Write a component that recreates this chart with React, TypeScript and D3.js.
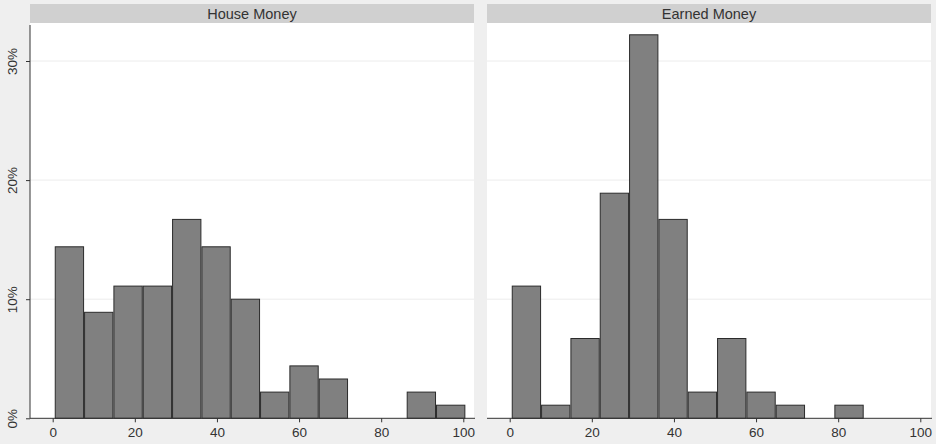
import React, { useEffect, useRef } from "react";
import * as d3 from "d3";

// bin layout (14 bins of equal width, Stata-style)
const binStart = 0.5;
const binWidth = 100 / 14;

const panels = ["House Money", "Earned Money"];
// percent of observations per bin
const houseMoney = [14.4, 8.9, 11.1, 11.1, 16.7, 14.4, 10.0, 2.2, 4.4, 3.3, 0, 0, 2.2, 1.1];
const earnedMoney = [11.1, 1.1, 6.7, 18.9, 32.2, 16.7, 2.2, 6.7, 2.2, 1.1, 0, 1.1, 0, 0];
const xTicks = [0, 20, 40, 60, 80, 100];
const yTicks = [0, 10, 20, 30];

const W = 936;
const H = 444;

function App() {
  const svgRef: any = useRef(null);

  useEffect(() => {
    draw();
  }, []);

  const draw = () => {
    const svg = d3.select(svgRef.current);
    svg.selectAll("*").remove();

    svg.append("rect").attr("width", W).attr("height", H).attr("fill", "#efefef");

    const font = "Arial, 'Liberation Sans', sans-serif";
    const panelW = 444;
    const panelLefts = [30, 487];
    const top = 23;

    const y = d3.scaleLinear().domain([0, 30]).range([418.3, 61]);

    const series = [houseMoney, earnedMoney];

    panelLefts.forEach((left, i) => {
      const x = d3
        .scaleLinear()
        .domain([0, 100])
        .range([left + 22.7, left + 433.3]);

      // header strip
      svg
        .append("rect")
        .attr("x", left)
        .attr("y", 4)
        .attr("width", panelW)
        .attr("height", top - 4)
        .attr("fill", "#d0d0d0");
      svg
        .append("text")
        .attr("x", left + panelW / 2)
        .attr("y", 18.5)
        .attr("text-anchor", "middle")
        .attr("font-family", font)
        .attr("font-size", 14.5)
        .attr("fill", "#333")
        .text(panels[i]);

      // plot region
      svg
        .append("rect")
        .attr("x", left)
        .attr("y", top)
        .attr("width", panelW)
        .attr("height", y(0) - top)
        .attr("fill", "#ffffff");

      // gridlines
      const g = svg.append("g");
      g.selectAll("line.grid")
        .data(yTicks.filter((t) => t > 0))
        .enter()
        .append("line")
        .attr("x1", left)
        .attr("x2", left + panelW)
        .attr("y1", (d) => y(d))
        .attr("y2", (d) => y(d))
        .attr("stroke", "#ececec")
        .attr("stroke-width", 1);

      // bars
      g.selectAll("rect.bar")
        .data(series[i].map((v, k) => ({ v, k })).filter((d) => d.v > 0))
        .enter()
        .append("rect")
        .attr("x", (d) => x(binStart + d.k * binWidth) + 0.5)
        .attr("y", (d) => y(d.v))
        .attr("width", (d) => x(binStart + (d.k + 1) * binWidth) - x(binStart + d.k * binWidth) - 1)
        .attr("height", (d) => y(0) - y(d.v))
        .attr("fill", "#808080")
        .attr("stroke", "#2b2b2b")
        .attr("stroke-width", 1);

      // x axis
      const xAxis = svg
        .append("g")
        .attr("transform", `translate(0, ${y(0)})`)
        .call(d3.axisBottom(x).tickValues(xTicks).tickSize(4).tickPadding(5).tickSizeOuter(0));
      xAxis.select(".domain").attr("d", `M${left},0H${left + panelW + 1}`).attr("stroke", "#333");
      xAxis.selectAll(".tick line").attr("stroke", "#333");
      xAxis
        .selectAll("text")
        .attr("font-family", font)
        .attr("font-size", 13.5)
        .attr("fill", "#333");

      // y axis only on the first panel
      if (i === 0) {
        const yAxis = svg
          .append("g")
          .attr("transform", `translate(${left}, 0)`)
          .call(
            d3
              .axisLeft(y)
              .tickValues(yTicks)
              .tickSize(4)
              .tickSizeOuter(0)
              .tickFormat((d: any) => `${d}%`)
          );
        yAxis.select(".domain").attr("d", `M0,${top + 2}V${y(0)}`).attr("stroke", "#333");
        yAxis.selectAll(".tick line").attr("stroke", "#333");
        yAxis
          .selectAll("text")
          .attr("font-family", font)
          .attr("font-size", 13.5)
          .attr("fill", "#333")
          .attr("text-anchor", "middle")
          .attr("x", 0)
          .attr("dy", 0)
          .attr("transform", "translate(-13,0) rotate(-90)");
      }
    });
  };

  return (
    <div style={{ position: "absolute", left: 0, top: 0 }}>
      <svg ref={svgRef} width={W} height={H} style={{ display: "block" }} />
    </div>
  );
}

export default App;
